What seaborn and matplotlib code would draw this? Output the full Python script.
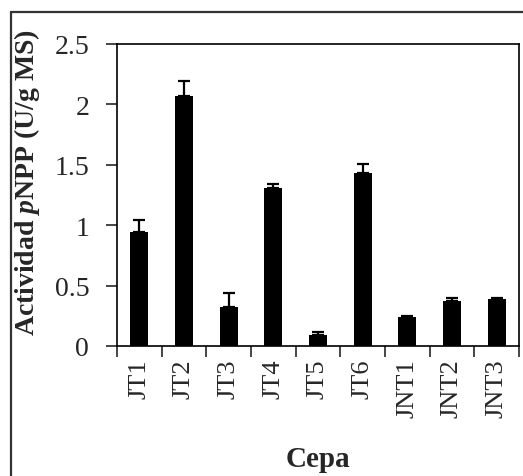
import numpy as np
import pandas as pd
import matplotlib
matplotlib.use("Agg")
import matplotlib.pyplot as plt
from matplotlib.lines import Line2D
import seaborn as sns

# data
cepas = ["JT1", "JT2", "JT3", "JT4", "JT5", "JT6", "JNT1", "JNT2", "JNT3"]
actividad = [0.94, 2.07, 0.32, 1.31, 0.09, 1.43, 0.24, 0.37, 0.39]
error = [0.10, 0.12, 0.12, 0.03, 0.03, 0.08, 0.005, 0.03, 0.005]
yticks = [0, 0.5, 1, 1.5, 2, 2.5]
ytick_labels = ["0", "0.5", "1", "1.5", "2", "2.5"]

df = pd.DataFrame({"Cepa": cepas, "Actividad": actividad, "err": error})

sns.set_style("white")
plt.rcParams["font.family"] = ["Liberation Serif", "DejaVu Serif"]
plt.rcParams["mathtext.fontset"] = "custom"
plt.rcParams["mathtext.it"] = "Liberation Serif:bold:italic"
plt.rcParams["mathtext.rm"] = "Liberation Serif:bold"
plt.rcParams["xtick.labelsize"] = 19
plt.rcParams["ytick.labelsize"] = 20

fig = plt.figure(figsize=(5.23, 4.77), dpi=100)
ax = fig.add_axes([117 / 523, 1 - 347 / 477, (519 - 117) / 523, (347 - 45) / 477])

sns.barplot(data=df, x="Cepa", y="Actividad", color="black", saturation=1,
            width=0.4, errorbar=None, linewidth=0, ax=ax)
ax.errorbar(np.arange(len(cepas)), df["Actividad"],
            yerr=[np.zeros(len(cepas)), df["err"]],
            fmt="none", ecolor="black", elinewidth=1.6, capsize=4.5, capthick=1.6)

ax.set_xlim(-0.5, len(cepas) - 0.5)
ax.set_ylim(0, 2.5)
ax.set_yticks(yticks)
ax.set_yticklabels(ytick_labels)

# ticks between categories, labels on categories
ax.set_xticks(np.arange(-0.5, len(cepas)), labels=[""] * (len(cepas) + 1))
ax.set_xticks(np.arange(len(cepas)), labels=cepas, minor=True)
ax.tick_params(axis="x", which="major", direction="out", length=8, width=1.2, bottom=True)
ax.tick_params(axis="x", which="minor", length=0, pad=9, labelsize=19, labelrotation=90)
ax.tick_params(axis="y", direction="out", length=8, width=1.2, left=True, pad=12)
plt.setp(ax.get_xticklabels(minor=True), fontsize=19)

for s in ax.spines.values():
    s.set_color("black")
    s.set_linewidth(1.2)

ax.set_xlabel("Cepa", fontsize=21, fontweight="bold")
ax.set_ylabel(r"Actividad $p$NPP (U/g MS)", fontsize=20, fontweight="bold")
ax.xaxis.set_label_coords(0.5, -0.328)
ax.yaxis.set_label_coords(-0.187, 0.546)

# outer frame
fig.add_artist(Line2D([11 / 523, 1], [1 - 13 / 477, 1 - 13 / 477], color="#333333", lw=1.6))
fig.add_artist(Line2D([11 / 523, 11 / 523], [0, 1 - 13 / 477], color="#333333", lw=1.6))

fig.savefig("out.png", dpi=100)
